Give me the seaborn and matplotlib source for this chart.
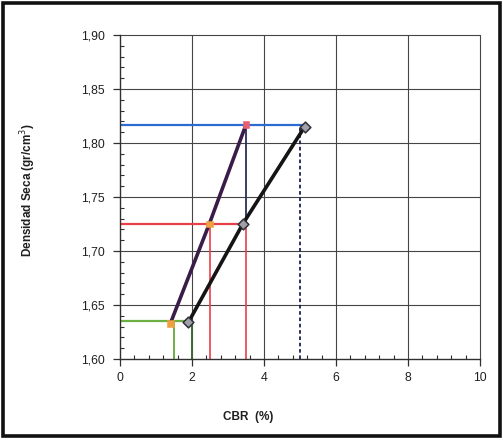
import matplotlib
matplotlib.use("Agg")
import matplotlib.pyplot as plt
from matplotlib.ticker import MultipleLocator, FuncFormatter
from matplotlib.patches import Rectangle
import seaborn as sns
import pandas as pd

# CBR curves: dry density vs CBR for the two penetration readings
cbr_01 = [1.40, 2.48, 3.50]
dens_01 = [1.633, 1.725, 1.817]
marker_colors_01 = ["#f0a040", "#f0a040", "#e86070"]

cbr_02 = [1.90, 3.41, 5.13]
dens_02 = [1.634, 1.725, 1.815]

# Reference densities and the CBR readings taken at them
ref_dens = [1.635, 1.725, 1.817]
ref_colors = ["#6cb044", "#e8404a", "#2c6cd0"]
ref_xmax = [1.90, 3.50, 5.13]
cbr_green = [1.5, 2.0]
cbr_red = [2.5, 3.5]
cbr_blue_solid = 3.5
cbr_blue_dotted = 5.0

xticks = [0, 2, 4, 6, 8, 10]
yticks = [1.60, 1.65, 1.70, 1.75, 1.80, 1.85, 1.90]

sns.set_theme(style="white")
plt.rcParams["font.family"] = ["Liberation Sans", "DejaVu Sans"]

fig = plt.figure(figsize=(5.03, 4.40), dpi=100)
ax = fig.add_axes([120 / 503, 1 - 359 / 440, 360 / 503, 324 / 440])

grid_c = "#454545"
for x in xticks[1:]:
    ax.axvline(x, color=grid_c, lw=0.8, zorder=1, clip_on=False)
for y in yticks[1:]:
    ax.axhline(y, color=grid_c, lw=0.8, zorder=1, clip_on=False)

# Horizontal reference lines
for y, c, xm in zip(ref_dens, ref_colors, ref_xmax):
    ax.plot([0, xm], [y, y], color=c, lw=1.6, zorder=2)

# Vertical read-off lines
ax.plot([cbr_green[0]] * 2, [1.60, ref_dens[0]], color="#6cb044", lw=1.4, zorder=2)
ax.plot([cbr_green[1]] * 2, [1.60, ref_dens[0]], color="#3d6a34", lw=1.4, zorder=2)
for x in cbr_red:
    ax.plot([x, x], [1.60, ref_dens[1]], color="#e8404a", lw=1.2, zorder=2)
ax.plot([cbr_blue_solid] * 2, [ref_dens[1], ref_dens[2]], color="#27305a", lw=1.3, zorder=2)
ax.plot([cbr_blue_dotted] * 2, [1.60, ref_dens[2]], color="#1a2050", lw=1.3,
        ls=(0, (2, 1.5)), zorder=2)

df1 = pd.DataFrame({"cbr": cbr_01, "dens": dens_01})
df2 = pd.DataFrame({"cbr": cbr_02, "dens": dens_02})

sns.lineplot(data=df1, x="cbr", y="dens", ax=ax, color="#3a1c48", lw=2.6,
             sort=False, zorder=3)
sns.scatterplot(data=df1, x="cbr", y="dens", ax=ax, marker="s", s=24,
                color=marker_colors_01, edgecolor=marker_colors_01, zorder=4)

sns.lineplot(data=df2, x="cbr", y="dens", ax=ax, color="#141414", lw=2.6,
             sort=False, zorder=3)
sns.scatterplot(data=df2, x="cbr", y="dens", ax=ax, marker="D", s=30,
                color="#a0a0a8", edgecolor="#303038", linewidth=1.1, zorder=4)

ax.set_xlim(0, 10)
ax.set_ylim(1.60, 1.90)
ax.set_xticks(xticks)
ax.set_yticks(yticks)
ax.xaxis.set_minor_locator(MultipleLocator(0.4))
ax.yaxis.set_minor_locator(MultipleLocator(0.01))
ax.yaxis.set_major_formatter(FuncFormatter(lambda v, p: f"{v:.2f}".replace(".", ",")))
ax.xaxis.set_major_formatter(FuncFormatter(lambda v, p: f"{v:.0f}"))

ax.tick_params(axis="both", which="major", direction="out", length=5, width=0.9,
               color="#303030", labelsize=8.8, labelcolor="#202020", pad=3,
               left=True, bottom=True)
ax.tick_params(axis="y", which="major", pad=6)
ax.tick_params(axis="x", which="major", pad=4)
ax.tick_params(axis="x", which="minor", direction="in", length=3, width=0.8,
               color="#303030", bottom=True)
ax.tick_params(axis="y", which="minor", direction="in", length=3, width=0.8,
               color="#303030", left=True)

for side in ["top", "right"]:
    ax.spines[side].set_visible(False)
for side in ["left", "bottom"]:
    ax.spines[side].set_color("#303030")
    ax.spines[side].set_linewidth(1.0)

ax.set_xlabel("CBR  (%)", fontsize=8.5, fontweight="bold", color="#202020")
ax.xaxis.set_label_coords(0.356, -0.16)
ax.set_ylabel("Densidad Seca (gr/cm$^3$)", fontsize=8.5, fontweight="bold",
              color="#202020")
ax.yaxis.set_label_coords(-0.228, 0.52)

# Outer frame around the whole figure
fig.patches.append(Rectangle((3 / 503, 4 / 440), 497 / 503, 433 / 440,
                             transform=fig.transFigure, fill=False,
                             edgecolor="#111111", lw=2.6))

fig.savefig("out.png", dpi=100, facecolor="white")
